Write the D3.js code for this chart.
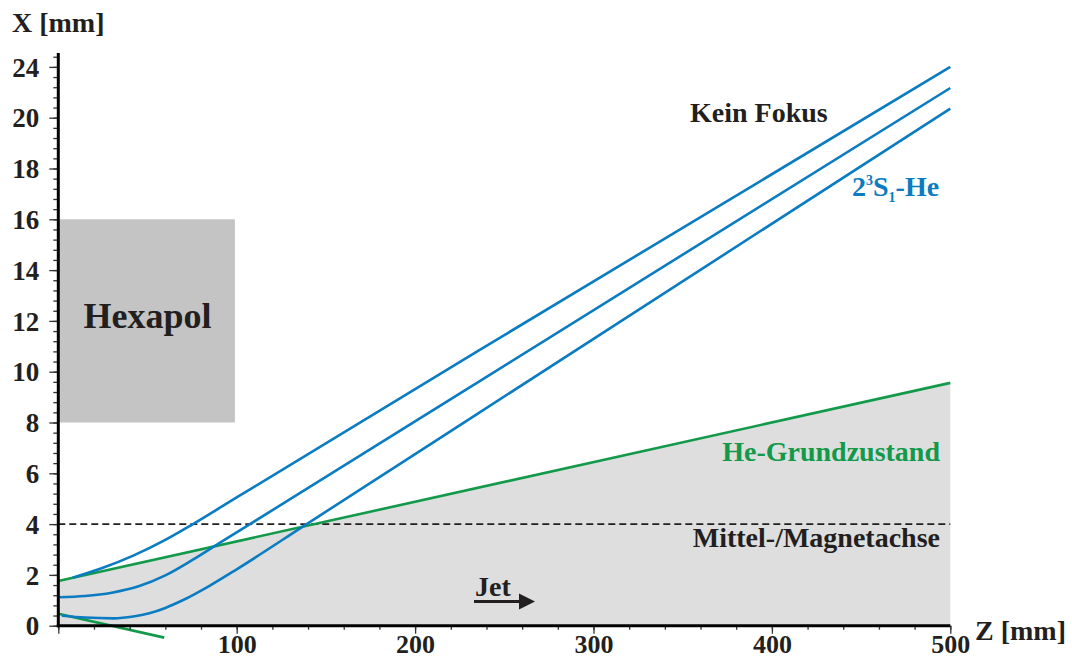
<!DOCTYPE html>
<html><head><meta charset="utf-8">
<script src="https://d3js.org/d3.v7.min.js"></script>
<style>
html,body{margin:0;padding:0;background:#fff;}
svg{display:block;}
text{font-family:"Liberation Serif","Times New Roman",serif;font-weight:bold;}
</style></head>
<body>
<svg id="chart" width="1072" height="659"></svg>
<script>
// ---- data (Z in mm, X in mm) ----
const zDomain = [0, 500];
const xDomain = [0, 22];
const xTickValues = [0, 100, 200, 300, 400, 500];
const xTickLabels = ["", "100", "200", "300", "400", "500"];
const yTickValues = [0, 2, 4, 6, 8, 10, 12, 14, 16, 18, 20, 22];
const yTickLabels = ["0", "2", "4", "6", "8", "10", "12", "14", "16", "18", "20", "24"];

// 2^3S1-He trajectories (three rays)
const rayTopZ = [8, 25, 42, 60, 75, 100, 236, 500];
const rayTopX = [1.89, 2.28, 2.76, 3.38, 3.98, 5.05, 10.85, 22.0];
const rayMidZ = [0, 15, 30, 45, 60, 75, 90, 107, 236, 500];
const rayMidX = [1.12, 1.17, 1.30, 1.55, 1.98, 2.58, 3.24, 3.98, 9.62, 21.17];
const rayLowZ = [2, 15, 31, 42, 51, 60, 70, 85, 100, 139, 236, 500];
const rayLowX = [0.39, 0.32, 0.29, 0.36, 0.49, 0.70, 1.01, 1.58, 2.22, 3.99, 8.39, 20.36];

// He ground state (straight rays)
const groundUpperZ = [0, 500];
const groundUpperX = [1.76, 9.56];
const groundLowerZ = [0, 59.4];
const groundLowerX = [0.47, -0.47];

// Hexapol region and axis line
const hexapolZ = [0, 99];
const hexapolX = [8, 16];
const axisLineX = 4;

const blue = "#0b7cc1", green = "#12994a", ink = "#231f20";

const svg = d3.select("#chart");
const x = d3.scaleLinear().domain(zDomain).range([58.3, 950.3]);
const y = d3.scaleLinear().domain(xDomain).range([625.7, 625.7 - 22 * 25.4]);

const pts = (zs, xs) => zs.map((z, i) => [z, xs[i]]);

// grey shaded area under the ground-state ray
const area = d3.area().x(d => x(d[0])).y0(y(0)).y1(d => y(d[1]));
svg.append("path").datum(pts(groundUpperZ, groundUpperX))
  .attr("d", area).attr("fill", "#dedede");

// Hexapol box
svg.append("rect")
  .attr("x", x(hexapolZ[0])).attr("y", y(hexapolX[1]))
  .attr("width", x(hexapolZ[1]) - x(hexapolZ[0]))
  .attr("height", y(hexapolX[0]) - y(hexapolX[1]))
  .attr("fill", "#c4c4c4");
svg.append("text").attr("x", (x(hexapolZ[0]) + x(hexapolZ[1])) / 2 + 1).attr("y", 328)
  .attr("text-anchor", "middle").attr("font-size", 36).attr("fill", ink).text("Hexapol");

// dashed middle / magnet axis
svg.append("line").attr("x1", x(0)).attr("x2", x(500))
  .attr("y1", y(axisLineX)).attr("y2", y(axisLineX))
  .attr("stroke", ink).attr("stroke-width", 1.6).attr("stroke-dasharray", "7,4");

const straight = d3.line().x(d => x(d[0])).y(d => y(d[1]));
const smooth = d3.line().x(d => x(d[0])).y(d => y(d[1])).curve(d3.curveMonotoneX);

// green rays
[[groundUpperZ, groundUpperX], [groundLowerZ, groundLowerX]].forEach(([zs, xs]) => {
  svg.append("path").datum(pts(zs, xs)).attr("d", straight)
    .attr("fill", "none").attr("stroke", green).attr("stroke-width", 2.6);
});
// blue rays
[[rayTopZ, rayTopX], [rayMidZ, rayMidX], [rayLowZ, rayLowX]].forEach(([zs, xs]) => {
  svg.append("path").datum(pts(zs, xs)).attr("d", smooth)
    .attr("fill", "none").attr("stroke", blue).attr("stroke-width", 2.6);
});

// axes
const minorY = d3.range(0, 22.41, 0.4);
const minorZ = d3.range(0, 500.1, 20);
const gy = svg.append("g").attr("transform", `translate(${x(0)},0)`);
gy.call(d3.axisLeft(y).tickValues(minorY).tickSize(5).tickFormat(""));
gy.call(g => g.select(".domain").remove());
const gy2 = svg.append("g").attr("transform", `translate(${x(0)},0)`);
gy2.call(d3.axisLeft(y).tickValues(yTickValues).tickSize(9).tickPadding(10)
  .tickFormat((d, i) => yTickLabels[i]));
gy2.call(g => g.select(".domain").remove());
gy2.selectAll("text").attr("font-size", 27).attr("fill", ink)
  .attr("font-family", "Liberation Serif").attr("font-weight", "bold").attr("dy", "0.34em");

const gx = svg.append("g").attr("transform", `translate(0,${y(0)})`);
gx.call(d3.axisBottom(x).tickValues(minorZ).tickSize(4).tickFormat(""));
gx.call(g => g.select(".domain").remove());
const gx2 = svg.append("g").attr("transform", `translate(0,${y(0)})`);
gx2.call(d3.axisBottom(x).tickValues(xTickValues).tickSize(8).tickPadding(2)
  .tickFormat((d, i) => xTickLabels[i]));
gx2.call(g => g.select(".domain").remove());
gx2.selectAll("text").attr("font-size", 26).attr("fill", ink)
  .attr("font-family", "Liberation Serif").attr("font-weight", "bold").attr("dy", "0.66em");
svg.selectAll(".tick line").attr("stroke", "#333").attr("stroke-width", 1.3);

// axis lines
svg.append("line").attr("x1", x(0)).attr("x2", x(0)).attr("y1", 53).attr("y2", y(0) + 1.5)
  .attr("stroke", "#000").attr("stroke-width", 3);
svg.append("line").attr("x1", x(0) - 1.5).attr("x2", x(500)).attr("y1", y(0)).attr("y2", y(0))
  .attr("stroke", "#000").attr("stroke-width", 3);

// axis titles
svg.append("text").attr("x", 12).attr("y", 32).attr("font-size", 28).attr("fill", ink).text("X [mm]");
svg.append("text").attr("x", 975).attr("y", 640).attr("font-size", 28).attr("fill", ink).text("Z [mm]");

// annotations
svg.append("text").attr("x", 690).attr("y", 122).attr("font-size", 28).attr("fill", ink).text("Kein Fokus");
const lab = svg.append("text").attr("x", 852).attr("y", 196).attr("font-size", 28).attr("fill", blue);
lab.append("tspan").text("2");
lab.append("tspan").attr("font-size", 14).attr("dy", -11).text("3");
lab.append("tspan").attr("dy", 11).text("S");
lab.append("tspan").attr("font-size", 14).attr("dy", 6).text("1");
lab.append("tspan").attr("dy", -6).text("-He");
svg.append("text").attr("x", 940).attr("y", 461).attr("text-anchor", "end")
  .attr("font-size", 28).attr("fill", green).text("He-Grundzustand");
svg.append("text").attr("x", 940).attr("y", 547).attr("text-anchor", "end")
  .attr("font-size", 28).attr("fill", ink).text("Mittel-/Magnetachse");

// Jet arrow
svg.append("text").attr("x", 475).attr("y", 596).attr("font-size", 28).attr("fill", ink).text("Jet");
svg.append("line").attr("x1", 474).attr("x2", 521).attr("y1", 601.5).attr("y2", 601.5)
  .attr("stroke", ink).attr("stroke-width", 3);
svg.append("path").attr("d", "M519,593.5 L535,601.5 L519,609.5 Z").attr("fill", ink);
</script>
</body></html>
